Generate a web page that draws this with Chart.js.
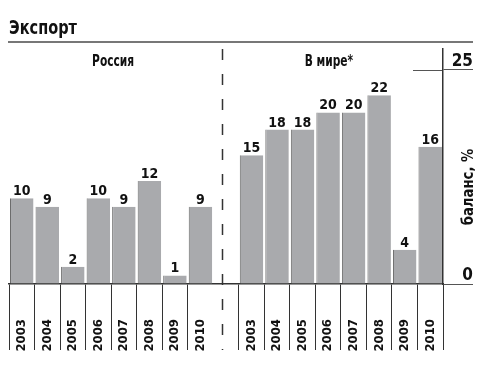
<!DOCTYPE html>
<html lang="ru">
<head>
<meta charset="utf-8">
<title>Экспорт</title>
<script src="https://cdn.jsdelivr.net/npm/chart.js@4.4.1/dist/chart.umd.min.js"></script>
<style>
  html, body { margin: 0; padding: 0; background: #fff; }
  #chart { display: block; }
</style>
</head>
<body>
<canvas id="chart" width="500" height="373"></canvas>
<script>
const years = ['2003', '2004', '2005', '2006', '2007', '2008', '2009', '2010'];
const russia = [10, 9, 2, 10, 9, 12, 1, 9];
const world = [15, 18, 18, 20, 20, 22, 4, 16];
const yTicks = [0, 25];
const groupNames = ['Россия', 'В мире*'];
const chartTitle = 'Экспорт';
const axisTitle = 'баланс, %';

const HEAVY = '"DejaVu Sans Condensed", "DejaVu Sans", sans-serif';
const GAP = years.length; // colonne vide entre les deux groupes

const labels = [...years, '', ...years];
const values = [...russia, null, ...world];

// texte "condensé" : on écrase horizontalement
function narrowText(ctx, text, x, y, squeeze, align) {
  ctx.save();
  ctx.translate(x, y);
  ctx.scale(squeeze, 1);
  ctx.textAlign = align;
  ctx.fillText(text, 0, 0);
  ctx.restore();
}

// titre, noms des groupes, ligne pointillée, valeurs au-dessus des barres
const decorPlugin = {
  id: 'decor',
  beforeDraw(chart) {
    const { ctx, chartArea } = chart;
    const x = chart.scales.x, y = chart.scales.y;
    ctx.save();
    ctx.fillStyle = '#111';
    ctx.textBaseline = 'alphabetic';

    ctx.font = 'bold 19px ' + HEAVY;
    narrowText(ctx, chartTitle, 9, 34, 0.85, 'left');

    ctx.strokeStyle = '#777';
    ctx.lineWidth = 2;
    ctx.beginPath();
    ctx.moveTo(8, 42);
    ctx.lineTo(y.right, 42);
    ctx.stroke();

    ctx.font = 'bold 16px ' + HEAVY;
    const ruCenter = (x.getPixelForValue(0) + x.getPixelForValue(GAP - 1)) / 2;
    const wCenter = (x.getPixelForValue(GAP + 1) + x.getPixelForValue(labels.length - 1)) / 2;
    narrowText(ctx, groupNames[0], ruCenter + 2, 66, 0.74, 'center');
    narrowText(ctx, groupNames[1], wCenter - 12, 66, 0.74, 'center');

    // ligne pointillée entre les groupes
    const dx = Math.round(x.getPixelForValue(GAP) - 4) + 0.5;
    ctx.strokeStyle = '#333';
    ctx.lineWidth = 1.5;
    ctx.setLineDash([11, 14]);
    ctx.beginPath();
    ctx.moveTo(dx, chartArea.top);
    ctx.lineTo(dx, x.bottom - 23);
    ctx.stroke();
    ctx.setLineDash([]);

    // partie intérieure du trait de 25
    ctx.strokeStyle = '#555';
    ctx.lineWidth = 1;
    yTicks.filter(v => v > 0).forEach(v => {
      const py = Math.round(y.getPixelForValue(v)) + 0.5;
      ctx.beginPath();
      ctx.moveTo(chartArea.right - 30, py);
      ctx.lineTo(chartArea.right, py);
      ctx.stroke();
    });

    // titre de l'axe, vertical
    ctx.font = 'bold 15px ' + HEAVY;
    ctx.translate(y.right, 187);
    ctx.rotate(-Math.PI / 2);
    narrowText(ctx, axisTitle, 0, 0, 0.98, 'center');
    ctx.restore();
  },
  afterDatasetsDraw(chart) {
    const { ctx } = chart;
    const meta = chart.getDatasetMeta(0);
    ctx.save();
    ctx.fillStyle = '#111';
    ctx.font = 'bold 14px ' + HEAVY;
    ctx.textBaseline = 'alphabetic';
    meta.data.forEach((bar, i) => {
      const v = values[i];
      if (v === null) return;
      narrowText(ctx, String(v), bar.x, bar.y - 3, 1, 'center');
    });
    ctx.restore();
  }
};

new Chart(document.getElementById('chart'), {
  type: 'bar',
  data: {
    labels: labels,
    datasets: [{
      data: values,
      backgroundColor: '#a9aaad',
      borderColor: '#6a6a6a',
      borderWidth: { left: 1, right: 0, top: 0, bottom: 0 },
      borderSkipped: false,
      barPercentage: 0.92,
      categoryPercentage: 1
    }]
  },
  options: {
    responsive: false,
    animation: false,
    layout: { padding: { top: 49, left: 9, right: 27, bottom: 0 } },
    plugins: {
      legend: { display: false },
      tooltip: { enabled: false }
    },
    scales: {
      x: {
        offset: true,
        afterFit: s => { s.height = 89; },
        border: { display: true, color: '#333', width: 1.5 },
        grid: {
          offset: true,
          drawOnChartArea: false,
          drawTicks: true,
          tickLength: 66,
          lineWidth: 1,
          color: c => c.index === GAP ? 'rgba(0,0,0,0)' : '#333'
        },
        ticks: {
          autoSkip: false,
          minRotation: 90,
          maxRotation: 90,
          padding: -31,
          color: '#111',
          font: { family: HEAVY, size: 13, weight: 'bold' }
        }
      },
      y: {
        position: 'right',
        min: 0,
        max: 27.4,
        afterBuildTicks: s => { s.ticks = yTicks.map(v => ({ value: v })); },
        afterFit: s => { s.width = 30; },
        border: { display: true, color: '#333', width: 1.5 },
        grid: {
          drawOnChartArea: false,
          drawTicks: true,
          tickLength: 30,
          lineWidth: 1,
          color: '#555'
        },
        ticks: {
          align: 'end',
          crossAlign: 'far',
          padding: 0,
          color: '#111',
          callback: v => String(v),
          font: { family: HEAVY, size: 17, weight: 'bold' }
        }
      }
    }
  },
  plugins: [decorPlugin]
});
</script>
</body>
</html>
